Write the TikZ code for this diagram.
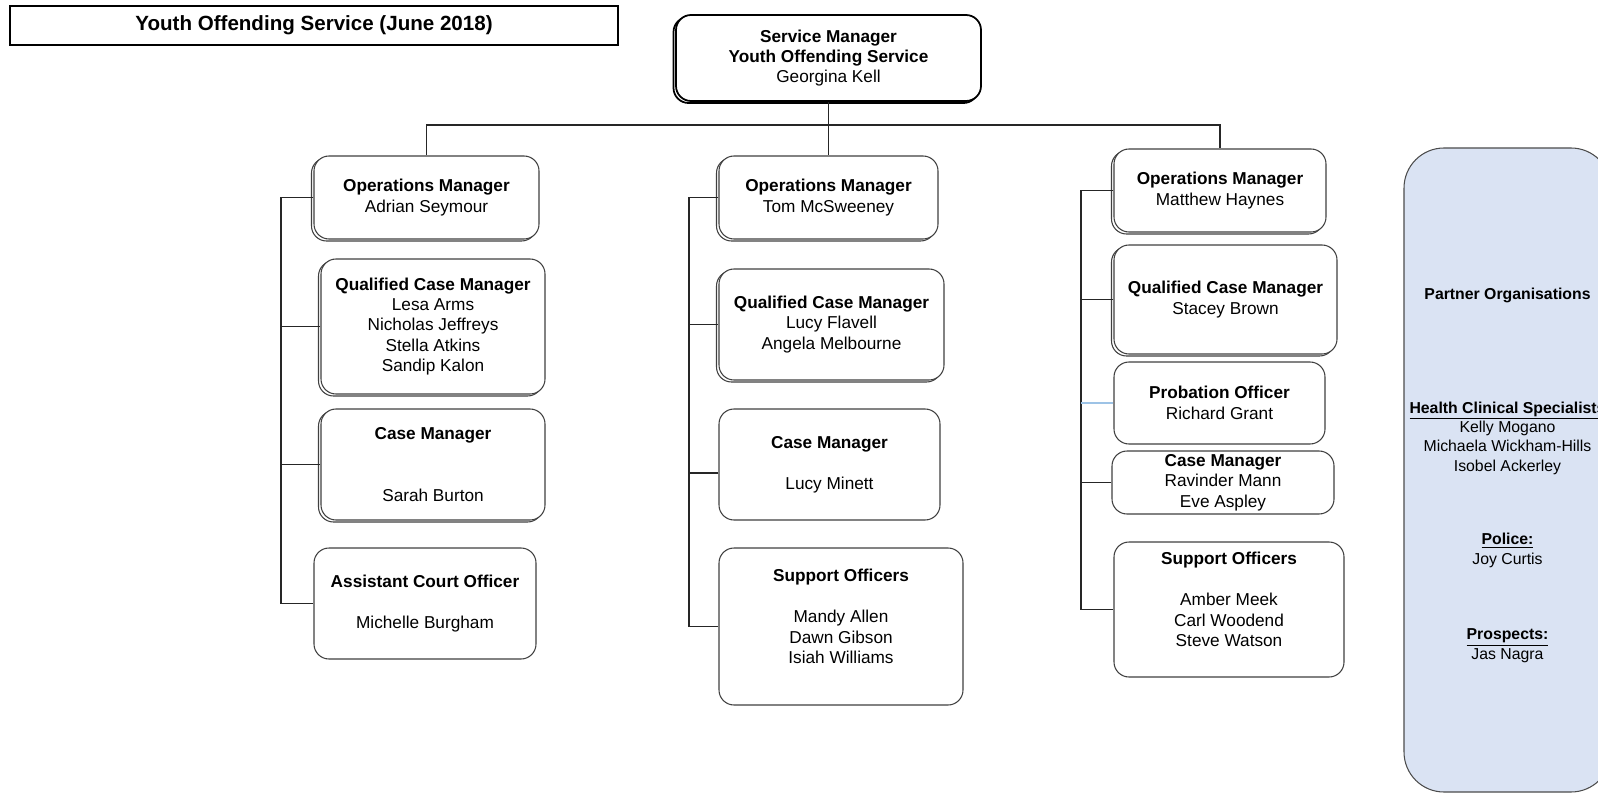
\documentclass[tikz,border=0pt]{standalone}
\usepackage{fontspec}
\setmainfont{Liberation Sans}
\usetikzlibrary{shadows}
\definecolor{pbg}{RGB}{218,227,243}
\definecolor{lnkblue}{RGB}{157,195,230}
\begin{document}
\begin{tikzpicture}[
    box/.style={draw=black!75,fill=white,line width=0.6pt,rounded corners=0.3cm,
      align=center,inner sep=2pt},
    shd/.style={copy shadow={shadow xshift=-0.05cm,shadow yshift=-0.04cm}},
    link/.style={draw=black!85,line width=0.6pt},
    every node/.style={font=\fontsize{9.8}{11.6}\selectfont}]
  \useasboundingbox (0,0) rectangle (31.96,-15.88);
  % title and head
  \node[draw,line width=0.9pt,minimum width=12.16cm,minimum height=0.78cm,
    font=\fontsize{11.7}{14}\selectfont\bfseries] (title) at (6.28,-0.51)
    {Youth Offending Service (June 2018)};
  \node[box,shd,draw=black,line width=1pt,minimum width=6.10cm,minimum height=1.72cm]
    (sm) at (16.57,-1.16)
    {\textbf{Service Manager}\\\textbf{Youth Offending Service}\\Georgina Kell};
  % left team
  \node[box,shd,minimum width=4.50cm,minimum height=1.66cm] (omA) at (8.53,-3.95)
    {\textbf{Operations Manager}\\Adrian Seymour};
  \node[box,shd,minimum width=4.48cm,minimum height=2.70cm] (qcmA) at (8.66,-6.53)
    {\textbf{Qualified Case Manager}\\Lesa Arms\\Nicholas Jeffreys\\Stella Atkins\\Sandip Kalon};
  \node[box,shd,minimum width=4.48cm,minimum height=2.22cm] (cmA) at (8.66,-9.29)
    {\textbf{Case Manager}\\[23.6pt]Sarah Burton};
  \node[box,minimum width=4.44cm,minimum height=2.22cm] (acoA) at (8.50,-12.07)
    {\textbf{Assistant Court Officer}\\[11.8pt]Michelle Burgham};
  % middle team
  \node[box,shd,minimum width=4.38cm,minimum height=1.66cm] (omB) at (16.57,-3.95)
    {\textbf{Operations Manager}\\Tom McSweeney};
  \node[box,shd,minimum width=4.50cm,minimum height=2.22cm] (qcmB) at (16.63,-6.49)
    {\textbf{Qualified Case Manager}\\Lucy Flavell\\Angela Melbourne};
  \node[box,minimum width=4.42cm,minimum height=2.22cm] (cmB) at (16.59,-9.29)
    {\textbf{Case Manager}\\[11.8pt]Lucy Minett};
  \node[box,minimum width=4.88cm,minimum height=3.14cm] (soB) at (16.82,-12.53)
    {\textbf{Support Officers}\\[11.8pt]Mandy Allen\\Dawn Gibson\\Isiah Williams\\~};
  % right team
  \node[box,shd,minimum width=4.24cm,minimum height=1.66cm] (omC) at (24.40,-3.81)
    {\textbf{Operations Manager}\\Matthew Haynes};
  \node[box,shd,minimum width=4.46cm,minimum height=2.18cm] (qcmC) at (24.51,-5.99)
    {\textbf{Qualified Case Manager}\\Stacey Brown};
  \node[box,minimum width=4.22cm,minimum height=1.64cm] (poC) at (24.39,-8.06)
    {\textbf{Probation Officer}\\Richard Grant};
  \node[box,inner ysep=0.5pt,minimum width=4.44cm,minimum height=1.26cm] (cmC) at (24.46,-9.65)
    {\textbf{Case Manager}\\Ravinder Mann\\Eve Aspley};
  \node[box,minimum width=4.60cm,minimum height=2.70cm] (soC) at (24.58,-12.19)
    {\textbf{Support Officers}\\[11.8pt]Amber Meek\\Carl Woodend\\Steve Watson\\~};
  % partners
  \node[box,fill=pbg,draw=black!70,rounded corners=0.8cm,minimum width=4.14cm,
    minimum height=12.88cm,font=\fontsize{9}{11}\selectfont] (ptn) at (30.15,-9.40)
    {\rule{0pt}{12.5pt}\textbf{Partner Organisations}\\[53.6pt]
     \textbf{\underline{Health Clinical Specialists}}\\Kelly Mogano\\
     Michaela Wickham-Hills\\Isobel Ackerley\\[31pt]
     \textbf{\underline{Police:}}\\Joy Curtis\\[32pt]
     \textbf{\underline{Prospects:}}\\Jas Nagra};
  % tree lines
  \coordinate (hub) at (16.52,-2.50);
  \coordinate (busA) at (5.62,0);
  \coordinate (busB) at (13.78,0);
  \coordinate (busC) at (21.62,0);
  \draw[link] (sm.south) -- (omB.north);
  \draw[link] (omA.north) |- (hub) -| (omC.north);
  \draw[link] (omA.west) -| (busA |- acoA.west) -- (acoA.west);
  \foreach \n in {qcmA,cmA} \draw[link] (\n.west) -- (\n.west -| busA);
  \draw[link] (omB.west) -| (busB |- soB.west) -- (soB.west);
  \draw[link] (qcmB.west) -- (qcmB.west -| busB);
  \draw[link] ([yshift=-0.17cm]cmB.west) -- ([yshift=-0.17cm]cmB.west -| busB);
  \draw[link] (omC.west) -| (busC |- soC.west) -- (soC.west);
  \foreach \n in {qcmC,cmC} \draw[link] (\n.west) -- (\n.west -| busC);
  \draw[link,draw=lnkblue] (poC.west) -- (poC.west -| busC);
\end{tikzpicture}
\end{document}
